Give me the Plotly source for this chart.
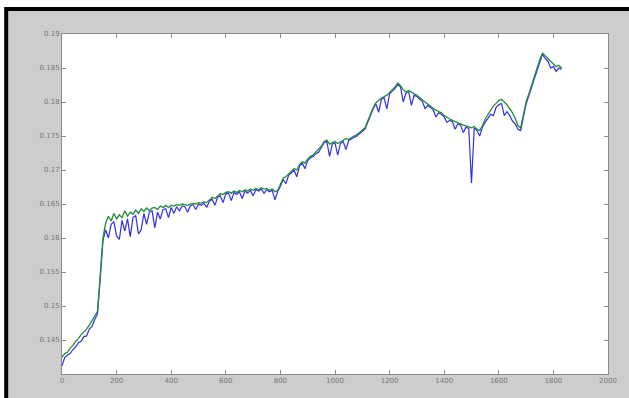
import plotly.graph_objects as go

# Sample index (every 10 steps)
x_vals = list(range(0, 1840, 10))

# Smoothed series (green)
green_vals = [
    0.1425, 0.1430, 0.1432, 0.1438, 0.1442, 0.1448, 0.1452, 0.1458, 0.1462, 0.1466,
    0.1472, 0.1478, 0.1485, 0.1492, 0.1545, 0.1600, 0.1622, 0.1632, 0.1625, 0.1636,
    0.1628, 0.1634, 0.1630, 0.1640, 0.1632, 0.1638, 0.1635, 0.1641, 0.1636, 0.1643,
    0.1639, 0.1644, 0.1640, 0.1644, 0.1645, 0.1642, 0.1647, 0.1645, 0.1648, 0.1645,
    0.1648, 0.1647, 0.1649, 0.1648, 0.1650, 0.1649, 0.1648, 0.1650, 0.1651, 0.1650,
    0.1652, 0.1651, 0.1653, 0.1652, 0.1656, 0.1660, 0.1658, 0.1662, 0.1665, 0.1664,
    0.1667, 0.1668, 0.1666, 0.1669, 0.1667, 0.1670, 0.1668, 0.1671, 0.1669, 0.1672,
    0.1670, 0.1673, 0.1671, 0.1674, 0.1672, 0.1673, 0.1670, 0.1672, 0.1668, 0.1670,
    0.1678, 0.1688, 0.1690, 0.1694, 0.1698, 0.1702, 0.1700, 0.1708, 0.1712, 0.1710,
    0.1716, 0.1720, 0.1722, 0.1726, 0.1730, 0.1735, 0.1742, 0.1744, 0.1738, 0.1740,
    0.1742, 0.1739, 0.1741, 0.1744, 0.1746, 0.1745, 0.1748, 0.1750, 0.1752, 0.1755,
    0.1758, 0.1762, 0.1772, 0.1782, 0.1792, 0.1799, 0.1803, 0.1806, 0.1808, 0.1810,
    0.1814, 0.1818, 0.1822, 0.1828, 0.1824, 0.1818, 0.1815, 0.1817, 0.1814, 0.1812,
    0.1810, 0.1806, 0.1803, 0.1800, 0.1797, 0.1794, 0.1790, 0.1788, 0.1786, 0.1784,
    0.1780, 0.1777, 0.1775, 0.1773, 0.1771, 0.1770, 0.1768, 0.1766, 0.1765, 0.1763,
    0.1762, 0.1764, 0.1760, 0.1758, 0.1765, 0.1775, 0.1782, 0.1788, 0.1794, 0.1798,
    0.1802, 0.1804, 0.1800, 0.1796, 0.1790, 0.1784, 0.1776, 0.1765, 0.1762, 0.1780,
    0.1800, 0.1812, 0.1825, 0.1838, 0.1850, 0.1862, 0.1872, 0.1868, 0.1864, 0.1860,
    0.1856, 0.1852, 0.1854, 0.1850,
]

# Raw series (blue)
blue_vals = [
    0.1412, 0.1424, 0.1428, 0.1430, 0.1436, 0.1440, 0.1446, 0.1448, 0.1455, 0.1456,
    0.1466, 0.1470, 0.1480, 0.1488, 0.1540, 0.1596, 0.1612, 0.1600, 0.1620, 0.1624,
    0.1603, 0.1598, 0.1626, 0.1610, 0.1628, 0.1602, 0.1630, 0.1633, 0.1606, 0.1612,
    0.1636, 0.1620, 0.1638, 0.1640, 0.1615, 0.1638, 0.1628, 0.1642, 0.1643, 0.1630,
    0.1645, 0.1636, 0.1646, 0.1640, 0.1647, 0.1646, 0.1638, 0.1647, 0.1649, 0.1642,
    0.1650, 0.1648, 0.1651, 0.1645, 0.1654, 0.1657, 0.1648, 0.1660, 0.1662, 0.1652,
    0.1665, 0.1666, 0.1655, 0.1667, 0.1664, 0.1668, 0.1658, 0.1669, 0.1666, 0.1670,
    0.1662, 0.1671, 0.1669, 0.1672, 0.1666, 0.1671, 0.1668, 0.1670, 0.1656, 0.1668,
    0.1676, 0.1686, 0.1680, 0.1692, 0.1696, 0.1700, 0.1690, 0.1706, 0.1710, 0.1702,
    0.1714, 0.1718, 0.1720, 0.1724, 0.1726, 0.1733, 0.1740, 0.1742, 0.1720, 0.1738,
    0.1740, 0.1722, 0.1739, 0.1742, 0.1730, 0.1743, 0.1746, 0.1748, 0.1750, 0.1753,
    0.1756, 0.1760, 0.1770, 0.1780, 0.1790, 0.1797, 0.1785, 0.1804, 0.1806, 0.1790,
    0.1812, 0.1816, 0.1820, 0.1826, 0.1822, 0.1800, 0.1813, 0.1815, 0.1795, 0.1810,
    0.1808, 0.1804, 0.1801, 0.1790, 0.1795, 0.1792, 0.1788, 0.1778, 0.1784, 0.1782,
    0.1778, 0.1770, 0.1773, 0.1771, 0.1760, 0.1768, 0.1766, 0.1755, 0.1763, 0.1761,
    0.1681, 0.1762, 0.1758, 0.1750, 0.1763, 0.1770, 0.1776, 0.1782, 0.1780, 0.1792,
    0.1796, 0.1798, 0.1780, 0.1786, 0.1780, 0.1772, 0.1768, 0.1760, 0.1758, 0.1776,
    0.1797, 0.1809, 0.1820, 0.1834, 0.1846, 0.1858, 0.1870, 0.1864, 0.1860, 0.1850,
    0.1852, 0.1845, 0.1850, 0.1848,
]

x_ticks = [0, 200, 400, 600, 800, 1000, 1200, 1400, 1600, 1800, 2000]
y_ticks = [0.145, 0.15, 0.155, 0.16, 0.165, 0.17, 0.175, 0.18, 0.185, 0.19]
y_ticktext = ["0.145", "0.15", "0.155", "0.16", "0.165", "0.17", "0.175", "0.18", "0.185", "0.19"]

W, H = 629, 398
L, R, T, B = 62, 19, 34, 24
PW, PH = W - L - R, H - T - B


def px(p):
    return (p - L) / PW


def py(q):
    return (H - B - q) / PH


fig = go.Figure()
fig.add_trace(go.Scatter(x=x_vals, y=blue_vals, mode="lines",
                         line=dict(color="#3030e8", width=1.2), showlegend=False))
fig.add_trace(go.Scatter(x=x_vals, y=green_vals, mode="lines",
                         line=dict(color="#238a3c", width=1.3), showlegend=False))

shapes = [
    # black frame edge (top/left)
    dict(type="rect", xref="paper", yref="paper", layer="below",
         x0=px(4), x1=px(W + 20), y0=py(7), y1=py(H + 20),
         fillcolor="black", line=dict(width=0)),
    # grey figure area
    dict(type="rect", xref="paper", yref="paper", layer="below",
         x0=px(8), x1=px(W + 20), y0=py(11), y1=py(H + 20),
         fillcolor="#cdcdcd", line=dict(width=0)),
    # white axes area
    dict(type="rect", xref="paper", yref="paper", layer="below",
         x0=0, x1=1, y0=0, y1=1, fillcolor="white", line=dict(width=0)),
]

axis_common = dict(
    showgrid=False, zeroline=False, showline=True, linecolor="#8a8a8a", linewidth=1,
    mirror="ticks", ticks="inside", ticklen=4, tickcolor="#8a8a8a",
    tickfont=dict(family="DejaVu Sans", size=7, color="#777777"),
)

fig.update_layout(
    width=W, height=H,
    margin=dict(l=L, r=R, t=T, b=B),
    paper_bgcolor="white", plot_bgcolor="white",
    shapes=shapes,
    xaxis=dict(range=[0, 2000], tickvals=x_ticks, ticktext=[str(v) for v in x_ticks], **axis_common),
    yaxis=dict(range=[0.14, 0.19], tickvals=y_ticks, ticktext=y_ticktext, **axis_common),
)

fig.write_html("out.html")
